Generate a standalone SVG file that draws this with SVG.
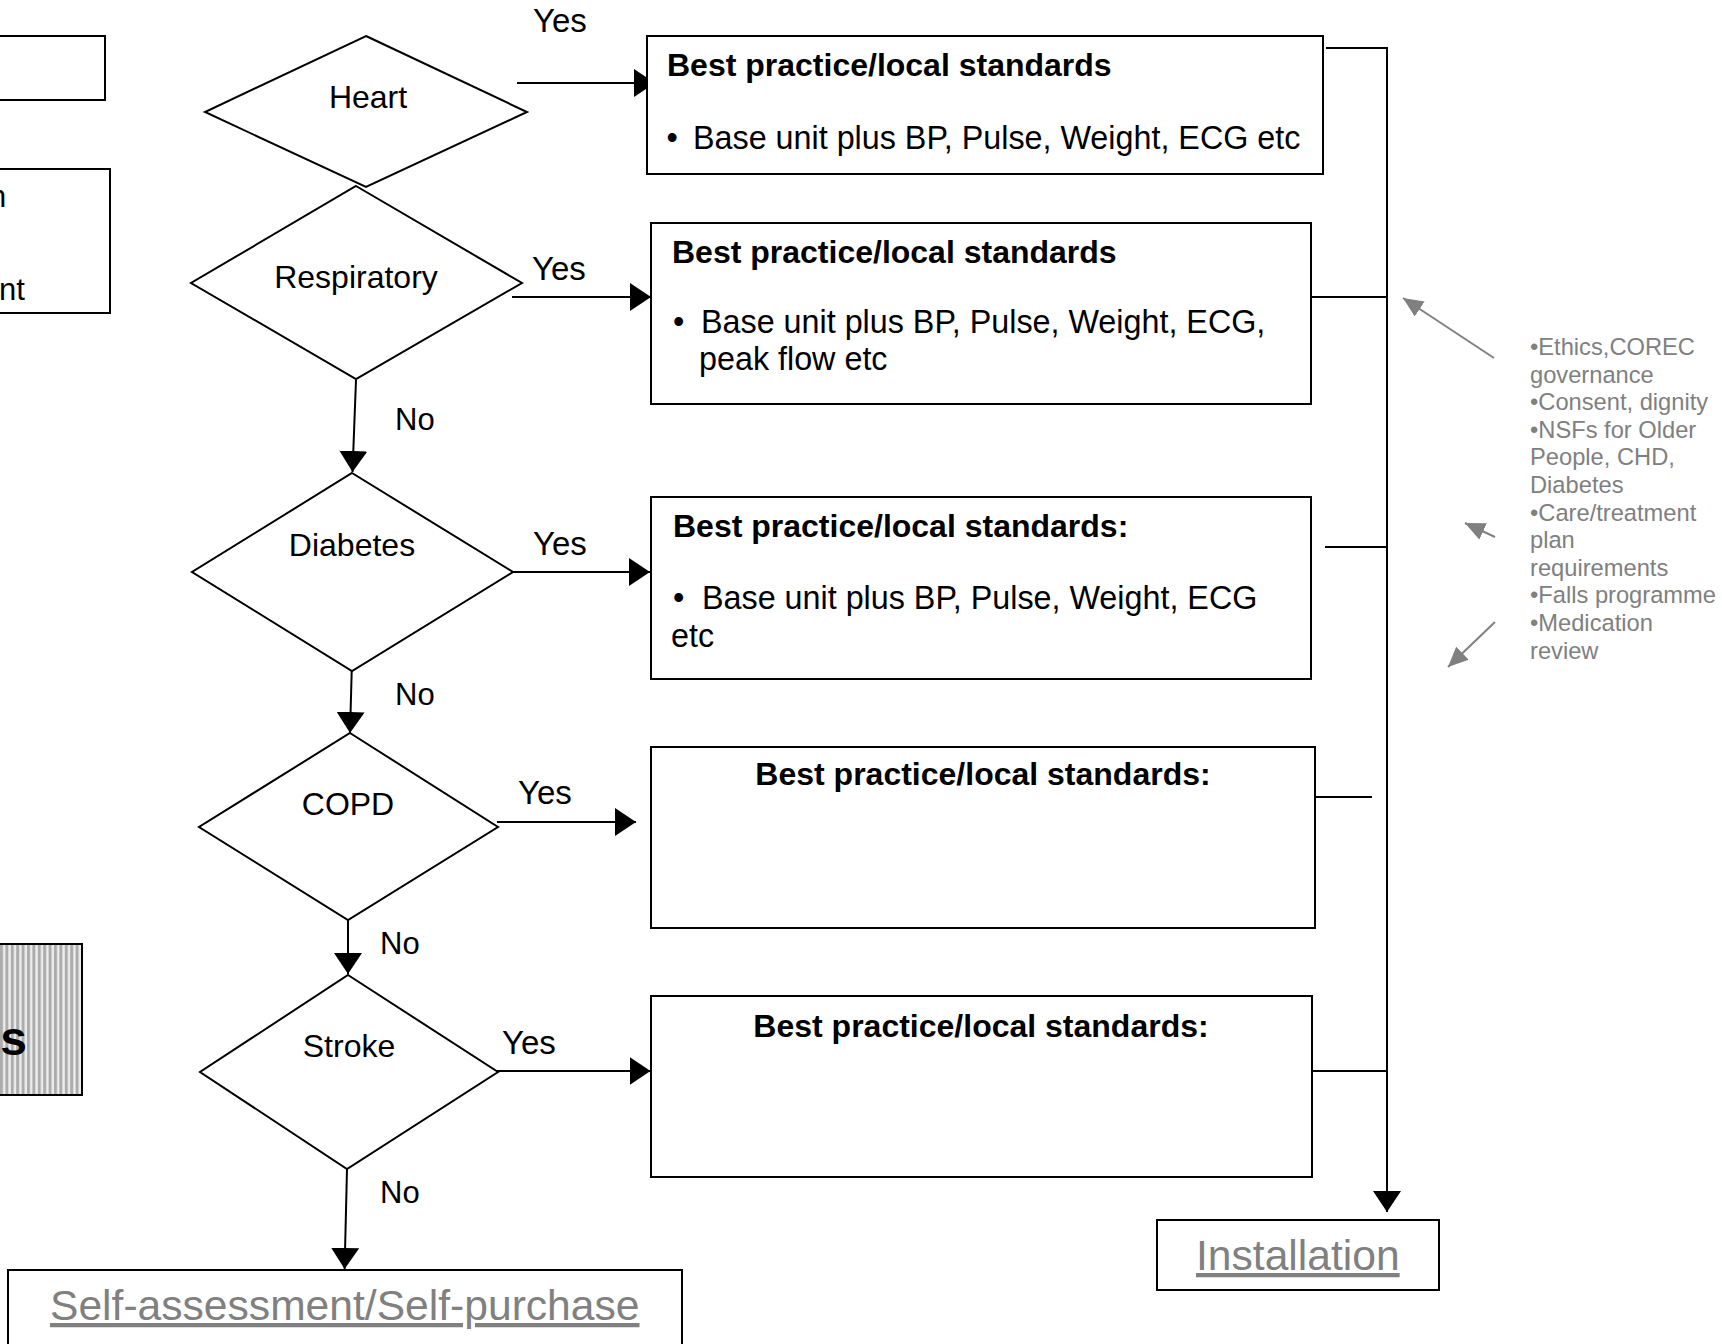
<svg xmlns="http://www.w3.org/2000/svg" width="1722" height="1344" viewBox="0 0 1722 1344">
<style>
text{font-family:"Liberation Sans",Arial,sans-serif;fill:#000}
.box{fill:#fff;stroke:#000;stroke-width:2}
.dia{fill:#fff;stroke:#000;stroke-width:2}
.lbl{font-size:32px;text-anchor:middle}
.yn{font-size:31px}
.yes{font-size:33px}
.ttl{font-size:32px;font-weight:bold}
.bod{font-size:32.3px}
.note{font-size:23.7px;fill:#808080}
.link{font-size:42.6px;fill:#808080;text-decoration:underline}
.con{fill:none;stroke:#000;stroke-width:2}
.garr{fill:none;stroke:#808080;stroke-width:2}
</style>
<defs>
<marker id="ah" viewBox="0 0 21 28" refX="21" refY="14" markerWidth="21" markerHeight="28" markerUnits="userSpaceOnUse" orient="auto">
<path d="M0,0 L21,14 L0,28 Z" fill="#000"/>
</marker>
<marker id="gah" viewBox="0 0 20 18" refX="20" refY="9" markerWidth="20" markerHeight="18" markerUnits="userSpaceOnUse" orient="auto">
<path d="M0,0 L20,9 L0,18 Z" fill="#808080"/>
</marker>
<pattern id="stripes" x="0" y="0" width="5.4" height="10" patternUnits="userSpaceOnUse">
<rect x="0" y="0" width="5.4" height="10" fill="#ededed"/>
<rect x="0" y="0" width="3" height="10" fill="#acacac"/>
</pattern>
</defs>

<g id="left-box-top">
<rect class="box" x="-5" y="36" width="110" height="64"/>
</g>
<g id="left-box-mid">
<rect class="box" x="-5" y="169" width="115" height="144"/>
<text class="yn" x="-11" y="207">n</text>
<text class="yn" x="-1" y="300">nt</text>
</g>
<g id="left-box-striped">
<rect x="-5" y="944" width="87" height="151" fill="url(#stripes)" stroke="#000" stroke-width="2"/>
<text x="27" y="1055" style="font-size:48px;font-weight:bold;text-anchor:end">s</text>
</g>

<g id="connectors">
<path class="con" d="M517,83 H655" marker-end="url(#ah)"/>
<path class="con" d="M512,297 H651" marker-end="url(#ah)"/>
<path class="con" d="M497,572 H650" marker-end="url(#ah)"/>
<path class="con" d="M497,822 H636" marker-end="url(#ah)"/>
<path class="con" d="M482,1071 H650.5" marker-end="url(#ah)"/>
<path class="con" d="M356,380 L352.5,472" marker-end="url(#ah)"/>
<path class="con" d="M351.7,671 L350,733" marker-end="url(#ah)"/>
<path class="con" d="M348,920 L348,974" marker-end="url(#ah)"/>
<path class="con" d="M347,1169 L344.6,1269" marker-end="url(#ah)"/>
<path class="con" d="M1326,48 H1387 V1212" marker-end="url(#ah)"/>
<path class="con" d="M1311,297 H1387"/>
<path class="con" d="M1325,547 H1387"/>
<path class="con" d="M1311,797 H1372"/>
<path class="con" d="M1312,1071 H1387"/>
<path class="garr" d="M1494,358 L1403,298" marker-end="url(#gah)"/>
<path class="garr" d="M1495,537 L1465,523" marker-end="url(#gah)"/>
<path class="garr" d="M1495,622 L1448,667" marker-end="url(#gah)"/>
<text class="yes" x="533" y="32">Yes</text>
<text class="yes" x="532" y="280">Yes</text>
<text class="yes" x="533" y="555">Yes</text>
<text class="yes" x="518" y="804">Yes</text>
<text class="yes" x="502" y="1054">Yes</text>
<text class="yn" x="395" y="430">No</text>
<text class="yn" x="395" y="705">No</text>
<text class="yn" x="380" y="954">No</text>
<text class="yn" x="380" y="1203">No</text>
</g>

<g id="heart">
<polygon class="dia" points="366,36 527,112 366,187 205,112"/>
<text class="lbl" x="368" y="108">Heart</text>
</g>
<g id="respiratory">
<polygon class="dia" points="356,186 522,283 356,379 191,283"/>
<text class="lbl" x="356" y="288">Respiratory</text>
</g>
<g id="diabetes">
<polygon class="dia" points="352,473 513,572 352,671 192,572"/>
<text class="lbl" x="352" y="556">Diabetes</text>
</g>
<g id="copd">
<polygon class="dia" points="350,733 498,827 348,920 199,827"/>
<text class="lbl" x="348" y="815">COPD</text>
</g>
<g id="stroke">
<polygon class="dia" points="348,975 498,1072 347,1169 200,1072"/>
<text class="lbl" x="349" y="1057">Stroke</text>
</g>

<g id="box-heart">
<rect class="box" x="647" y="36" width="676" height="138"/>
<text class="ttl" x="667" y="76">Best practice/local standards</text>
<text class="bod" x="666.5" y="149">•</text>
<text class="bod" x="693" y="149">Base unit plus BP, Pulse, Weight, ECG etc</text>
</g>
<g id="box-respiratory">
<rect class="box" x="651" y="223" width="660" height="181"/>
<text class="ttl" x="672" y="263">Best practice/local standards</text>
<text class="bod" x="673" y="333">•</text>
<text class="bod" x="701" y="333">Base unit plus BP, Pulse, Weight, ECG,</text>
<text class="bod" x="699" y="370">peak flow etc</text>
</g>
<g id="box-diabetes">
<rect class="box" x="651" y="497" width="660" height="182"/>
<text class="ttl" x="673" y="537">Best practice/local standards:</text>
<text class="bod" x="673" y="609">•</text>
<text class="bod" x="702" y="609">Base unit plus BP, Pulse, Weight, ECG</text>
<text class="bod" x="671" y="647">etc</text>
</g>
<g id="box-copd">
<rect class="box" x="651" y="747" width="664" height="181"/>
<text class="ttl" x="983" y="785" text-anchor="middle">Best practice/local standards:</text>
</g>
<g id="box-stroke">
<rect class="box" x="651" y="996" width="661" height="181"/>
<text class="ttl" x="981" y="1037" text-anchor="middle">Best practice/local standards:</text>
</g>

<g id="notes">
<text class="note" x="1530" y="355">•Ethics,COREC</text>
<text class="note" x="1530" y="382.6">governance</text>
<text class="note" x="1530" y="410.2">•Consent, dignity</text>
<text class="note" x="1530" y="437.8">•NSFs for Older</text>
<text class="note" x="1530" y="465.4">People, CHD,</text>
<text class="note" x="1530" y="493">Diabetes</text>
<text class="note" x="1530" y="520.6">•Care/treatment</text>
<text class="note" x="1530" y="548.2">plan</text>
<text class="note" x="1530" y="575.8">requirements</text>
<text class="note" x="1530" y="603.4">•Falls programme</text>
<text class="note" x="1530" y="631">•Medication</text>
<text class="note" x="1530" y="658.6">review</text>
</g>

<g id="self-assessment">
<rect class="box" x="8" y="1270" width="674" height="90"/>
<text class="link" x="50" y="1320">Self-assessment/Self-purchase</text>
</g>
<g id="installation">
<rect class="box" x="1157" y="1220" width="282" height="70"/>
<text class="link" x="1196" y="1270">Installation</text>
</g>
</svg>
